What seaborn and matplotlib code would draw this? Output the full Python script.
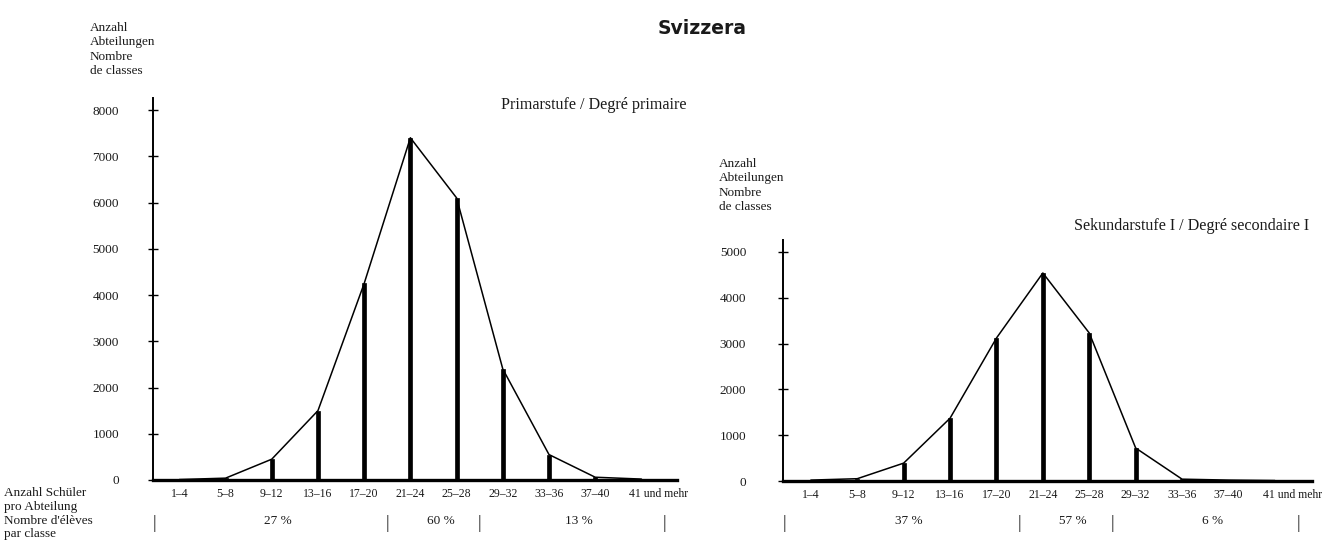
import matplotlib
matplotlib.use("Agg")
import matplotlib.pyplot as plt
import matplotlib.transforms as mtransforms
import seaborn as sns

# class sizes (pupils per class) and number of classes
classes = ["1–4", "5–8", "9–12", "13–16", "17–20", "21–24", "25–28",
           "29–32", "33–36", "37–40", "41 und mehr"]
primary = [10, 40, 450, 1500, 4250, 7400, 6100, 2400, 550, 60, 20]
secondary = [20, 50, 390, 1370, 3120, 4540, 3230, 720, 40, 20, 10]

# share of classes per size group (first class index of each group)
group_start = [0, 5, 7, 11]
primary_share = ["27 %", "60 %", "13 %"]
secondary_share = ["37 %", "57 %", "6 %"]

sns.set_style("white")
plt.rcParams["font.family"] = ["Liberation Serif", "DejaVu Serif"]
ink = "#1a1a1a"

fig = plt.figure(figsize=(13.38, 5.49), dpi=100)
W, H = 1338, 549


def px_axes(left, top, right, bottom):
    return fig.add_axes([left / W, 1 - bottom / H, (right - left) / W, (bottom - top) / H])


def draw_panel(ax, values, ymax, yticks, xlim, shares, pad):
    sns.lineplot(x=classes, y=values, ax=ax, color="black", lw=1.1, sort=False)
    sns.barplot(x=classes, y=values, ax=ax, color="black", width=0.085,
                saturation=1, edgecolor="black", linewidth=0.5)
    ax.set_xlim(*xlim)
    ax.set_ylim(0, ymax)
    ax.set_yticks(yticks)
    ax.set_xlabel("")
    ax.set_ylabel("")
    for s in ["top", "right"]:
        ax.spines[s].set_visible(False)
    ax.spines["left"].set_linewidth(1.4)
    ax.spines["bottom"].set_linewidth(2.4)
    ax.spines["left"].set_color("black")
    ax.spines["bottom"].set_color("black")
    ax.tick_params(axis="y", direction="inout", length=7, width=1, color="black",
                   labelsize=9.5, labelcolor=ink, pad=pad, left=True)
    ax.tick_params(axis="x", length=0, labelsize=8.5, labelcolor=ink, pad=6)
    ax.grid(False)

    # the last class label runs past the end of the axis, as in the scan
    last = ax.get_xticklabels()[-1]
    last.set_horizontalalignment("left")
    last.set_transform(last.get_transform() +
                       mtransforms.ScaledTranslation(-12 / 100, 0, fig.dpi_scale_trans))

    # percentage row with separators under the class labels
    trans = mtransforms.blended_transform_factory(ax.transData, fig.transFigure)
    edges = [g - 0.5 for g in group_start]
    edges[0] = xlim[0] + 0.03
    for e in edges:
        ax.text(e, 1 - 524 / H, "|", transform=trans, ha="center", va="center",
                fontsize=13, color=ink, clip_on=False)
    for i, txt in enumerate(shares):
        ax.text((edges[i] + edges[i + 1]) / 2 + 0.15, 1 - 521 / H, txt, transform=trans,
                ha="center", va="center", fontsize=9.5, color=ink, clip_on=False)


ax1 = px_axes(153, 98, 677, 480)
draw_panel(ax1, primary, 8260, range(0, 8001, 1000), (-0.57, 10.77), primary_share, 21)

ax2 = px_axes(783, 240, 1312, 481)
draw_panel(ax2, secondary, 5260, range(0, 5001, 1000), (-0.60, 10.80), secondary_share, 23)

fig.text(702 / W, 1 - 28 / H, "Svizzera", ha="center", va="center", fontsize=13.5,
         fontweight="bold", family="DejaVu Sans", color=ink)

ylab = "Anzahl\nAbteilungen\nNombre\nde classes"
fig.text(90 / W, 1 - 22 / H, ylab, ha="left", va="top", fontsize=9.5, linespacing=1.26, color=ink)
fig.text(719 / W, 1 - 158 / H, ylab, ha="left", va="top", fontsize=9.5, linespacing=1.26, color=ink)

fig.text(501 / W, 1 - 105 / H, "Primarstufe / Degré primaire", ha="left", va="center",
         fontsize=11.6, color=ink)
fig.text(1074 / W, 1 - 226 / H, "Sekundarstufe I / Degré secondaire I", ha="left", va="center",
         fontsize=11.6, color=ink)

fig.text(4 / W, 1 - 487 / H, "Anzahl Schüler\npro Abteilung\nNombre d'élèves\npar classe",
         ha="left", va="top", fontsize=9.5, linespacing=1.2, color=ink)

fig.savefig("out.png", dpi=100)
